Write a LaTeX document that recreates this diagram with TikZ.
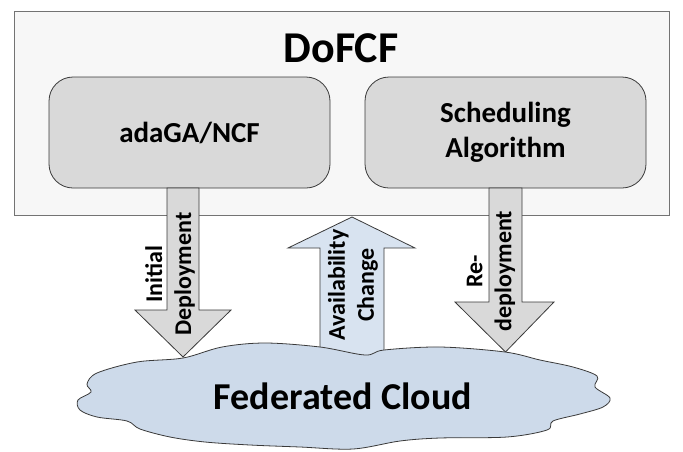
\documentclass[tikz,border=0pt]{standalone}
\usepackage{fontspec}
\setmainfont{Carlito}
\usetikzlibrary{positioning}

\definecolor{panelgray}{HTML}{F7F7F7}
\definecolor{boxgray}{HTML}{D9D9D9}
\definecolor{cloudblue}{HTML}{CDDAEA}
\definecolor{arrowblue}{HTML}{D8E3F0}
\definecolor{edgegray}{HTML}{3A3A3A}

\tikzset{
  modbox/.style={draw=edgegray, fill=boxgray, line width=0.8pt, rounded corners=24pt,
    minimum width=281pt, minimum height=111pt, align=center,
    font=\fontsize{29}{35}\selectfont\bfseries},
  blockarrow/.style={draw=edgegray, fill=boxgray, line width=0.8pt, line join=miter},
  arrowlabel/.style={rotate=90, align=center, inner sep=0pt,
    font=\fontsize{24}{29}\selectfont\bfseries},
}

\begin{document}
\begin{tikzpicture}[x=1pt, y=-1pt]
\useasboundingbox (0,0) rectangle (683,451);

% Outer frame
\draw[draw=black!55, fill=panelgray, line width=0.8pt] (14,11) rectangle (669,215);
\node[anchor=base, font=\fontsize{44}{50}\selectfont\bfseries] (title) at (341,62) {DoFCF};

% Modules
\node[modbox] (adaga) at (189.5,132.5) {adaGA/NCF};
\node[modbox] (sched) at (505.5,132.5) {Scheduling\\Algorithm};

% Arrow down: initial deployment
\draw[blockarrow] (167,188) -- (199,188) -- (199,310) -- (231,310) -- (183,357)
  -- (135,310) -- (167,310) -- cycle;
\node[arrowlabel] (initdep) at (170,274) {Initial\\Deployment};

% Arrow up: availability change
\draw[blockarrow, fill=arrowblue] (320,380) -- (320,248) -- (288,248) -- (352,217)
  -- (415,248) -- (384,248) -- (384,380) -- cycle;
\node[arrowlabel] (avail) at (353,285) {Availability\\Change};

% Arrow down: re-deployment
\draw[blockarrow] (489,188) -- (522,188) -- (522,302) -- (554,302) -- (505.5,352)
  -- (455,302) -- (489,302) -- cycle;
\node[arrowlabel] (redep) at (491,271) {Re-\\deployment};

% Cloud
\draw[draw=edgegray, fill=cloudblue, line width=0.8pt] plot[smooth cycle, tension=0.55]
  coordinates {(183,358) (222,347) (265,343) (320,347) (365,355) (384,350) (440,347)
  (505,352) (540,360) (573,367) (597,376) (595,387) (610,398) (603,407) (580,414)
  (553,421) (547,430) (507,437) (440,438) (400,441) (353,449) (300,447) (250,445)
  (205,442) (170,437) (140,429) (127,421) (97,417) (80,410) (78,400) (91,392)
  (87,384) (97,373) (137,362)};
\node[font=\fontsize{38}{44}\selectfont\bfseries] (fedcloud) at (343,396) {Federated Cloud};

\end{tikzpicture}
\end{document}
